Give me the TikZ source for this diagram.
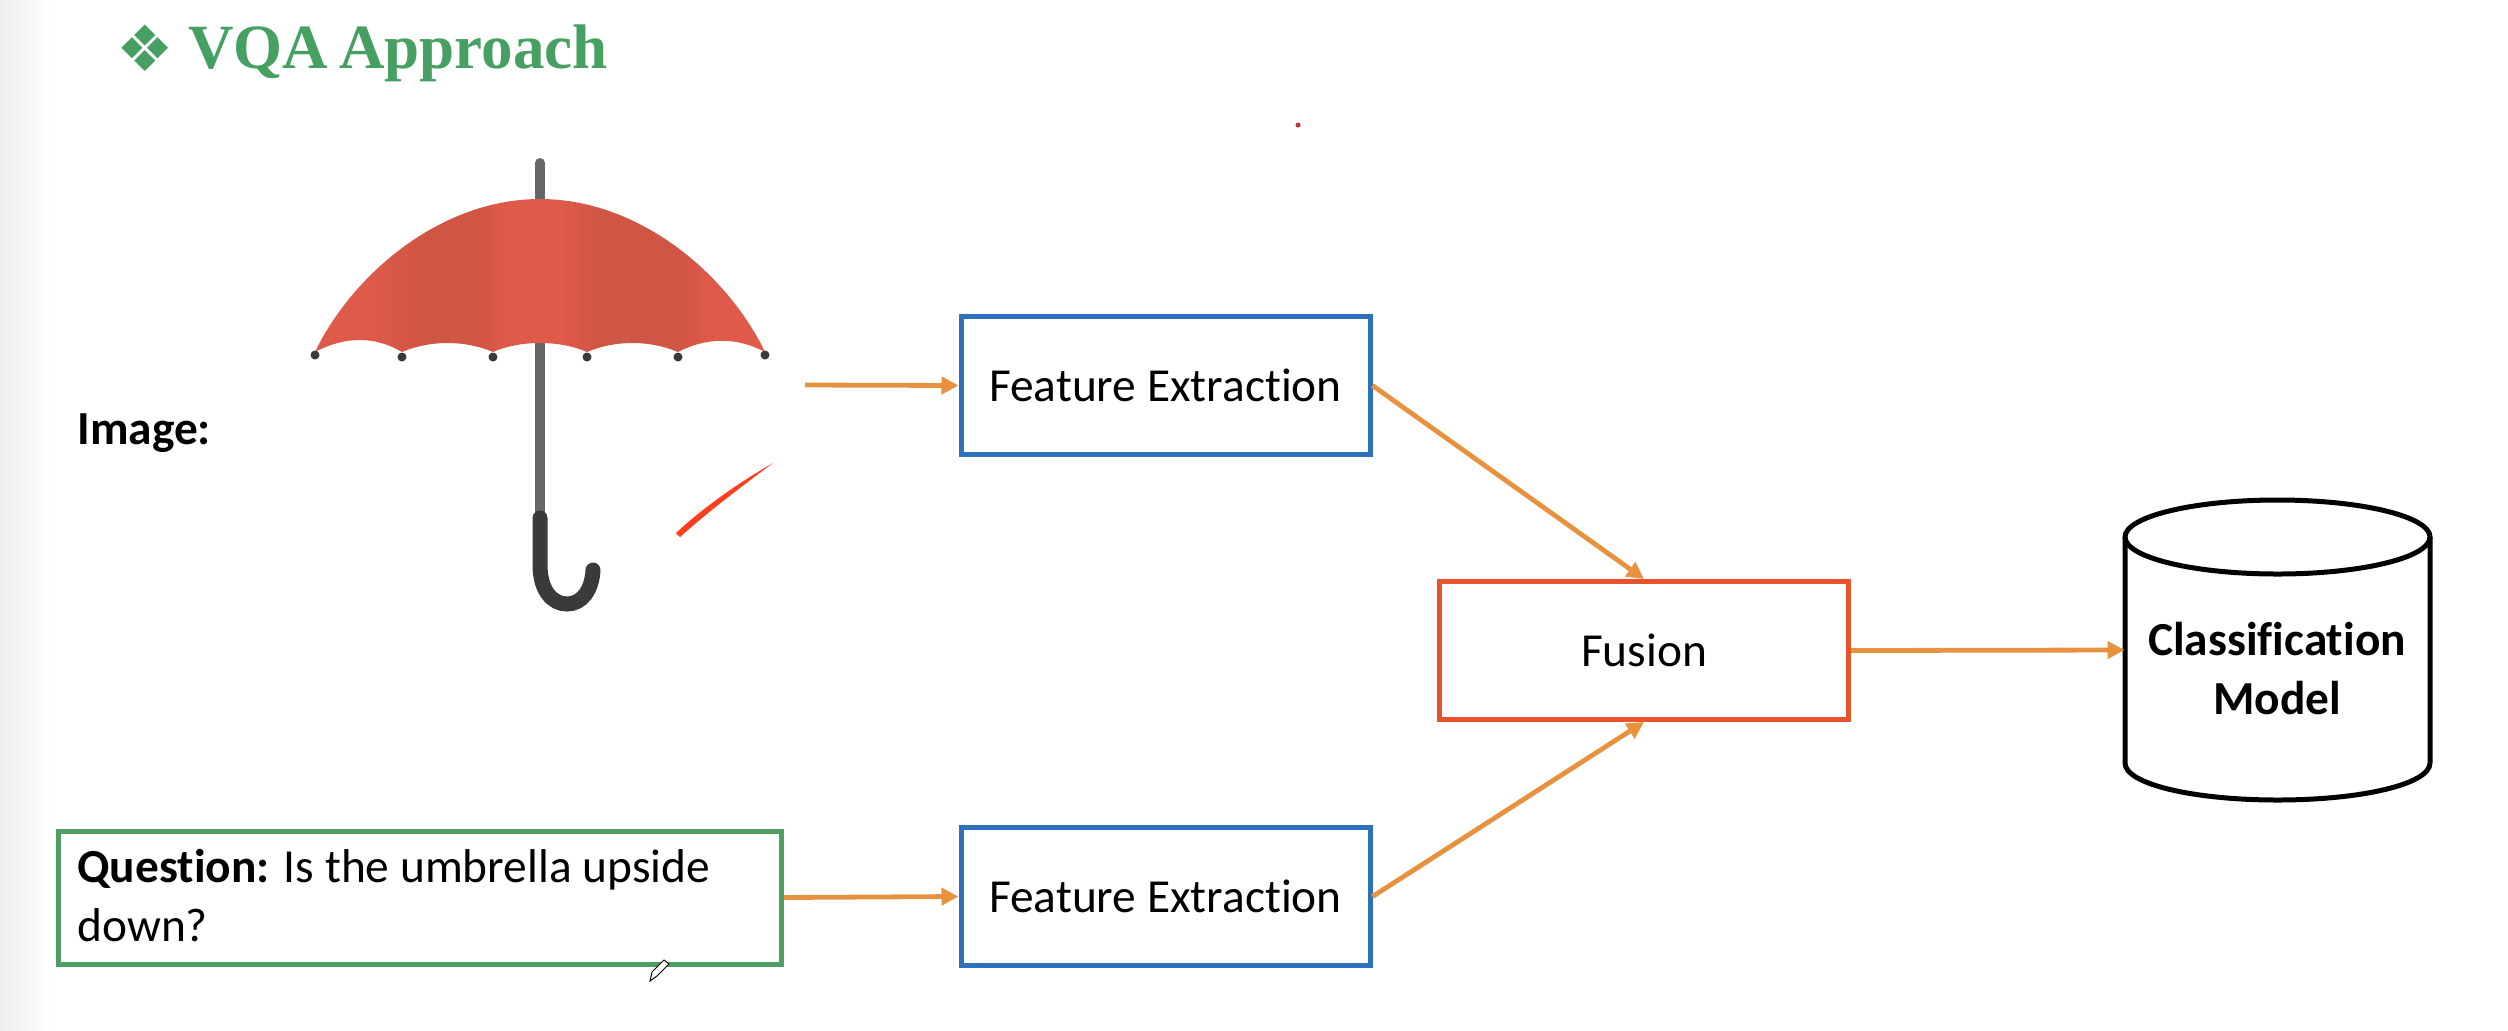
\documentclass[tikz,border=0pt]{standalone}
\usepackage{fontspec}
\setmainfont[Ligatures=CommonOff]{Carlito}
\newfontfamily\titlefont{Liberation Serif}
\newfontfamily\symfont{DejaVu Sans}
\usetikzlibrary{arrows.meta}
\definecolor{arrowc}{HTML}{E8923F}
\definecolor{blueb}{HTML}{2F70BE}
\definecolor{greenb}{HTML}{4F9E63}
\definecolor{titleg}{HTML}{46A062}
\definecolor{fusionb}{HTML}{E9532B}
\definecolor{pole}{HTML}{666666}
\definecolor{grip}{HTML}{3A3A3A}
\definecolor{ubright}{HTML}{DF5A49}
\definecolor{udark}{HTML}{CF5544}
\definecolor{penred}{HTML}{FF3C1C}
\pgfdeclarehorizontalshading{umbshade}{100bp}{
  color(0bp)=(ubright); color(25bp)=(ubright); color(31bp)=(ubright);
  color(37bp)=(udark); color(43bp)=(udark); color(46bp)=(ubright);
  color(52bp)=(ubright); color(57bp)=(udark);
  color(65bp)=(udark); color(69bp)=(ubright); color(75bp)=(ubright); color(100bp)=(ubright)}
\tikzset{
  x=0.5pt,y=-0.5pt,
  boxb/.style={draw,line width=2.5pt,minimum width=204.5pt,minimum height=69pt,inner sep=0pt,font=\fontsize{23.7}{29}\selectfont},
  flow/.style={draw=arrowc,line width=2.4pt,-{Triangle[length=8.5pt,width=8.5pt]}},
  tipdot/.style={fill=grip,draw=none}
}
\begin{document}
\begin{tikzpicture}
\useasboundingbox (0,0) rectangle (2508,1030);
\fill[white] (0,0) rectangle (2508,1030);
\shade[left color=black!7,right color=white] (0,0) rectangle (50,1030);
% title
\node[anchor=west,inner sep=0pt,text=titleg,font=\symfont\fontsize{32}{34}\selectfont] (bul) at (116,48) {❖};
\node[anchor=base west,inner sep=0pt,text=titleg,font=\titlefont\bfseries\fontsize{31.5}{36}\selectfont] (title) at (188,68) {VQA\hspace{5.5pt}Approach};
\fill[red!70!black!80] (1298,125) circle (2.5);
% umbrella
\draw[pole,line width=5pt,line cap=round] (540,163) -- (540,520);
\begin{scope}
\clip (315,352) .. controls (352,275) and (440,199) .. (540,199)
  .. controls (640,199) and (728,275) .. (765,352)
  .. controls (735,336) and (705,338) .. (678,352)
  .. controls (650,340) and (615,340) .. (587,352)
  .. controls (560,340) and (520,340) .. (493,352)
  .. controls (465,340) and (430,340) .. (402,352)
  .. controls (375,336) and (345,336) .. (315,352) -- cycle;
\shade[shading=umbshade] (315,190) rectangle (765,360);
\end{scope}
\foreach \px/\py in {315/355,402/357,493/357,587/357,678/357,765/355}{
  \fill[tipdot] (\px,\py) circle (4.5);
}
\draw[grip,line width=7.5pt,line cap=round] (540,518) -- (540,565)
  .. controls (540,590) and (552,604) .. (567,604)
  .. controls (582,604) and (592,590) .. (593,570);
% pen mark
\fill[penred] (676,533) .. controls (705,506) and (740,482) .. (773,463)
  .. controls (745,484) and (710,510) .. (680,537) -- cycle;
% labels and boxes
\node[anchor=west,inner sep=0pt,font=\bfseries\fontsize{23.7}{29}\selectfont] (imglab) at (77,433) {Image:};
\coordinate (imgout) at (805,385);
\node[boxb,draw=blueb] (fe1) at (1165.5,385.5) {Feature Extraction};
\node[boxb,draw=blueb] (fe2) at (1165.5,896.5) {Feature Extraction};
\node[boxb,draw=fusionb] (fus) at (1644,650.5) {Fusion};
\node[draw=greenb,line width=2.5pt,minimum width=361.5pt,minimum height=66.5pt,inner sep=0pt] (q) at (420,897.5) {};
\node[anchor=north west,inner sep=0pt,align=left,font=\fontsize{23.7}{29.5}\selectfont] (qtext) at (77,849) {\textbf{Question:} Is the umbrella upside\\down?};
% cylinder
\node[minimum width=152.5pt,minimum height=150pt,inner sep=0pt] (cyl) at (2277.5,650) {};
\draw[black,line width=2.5pt,line join=round] (2125,537) -- (2125,763)
  .. controls (2125,784) and (2193,800) .. (2277.5,800)
  .. controls (2362,800) and (2430,784) .. (2430,763) -- (2430,537);
\draw[black,line width=2.5pt] (2277.5,537) ellipse [x radius=152.5,y radius=37];
\node[align=center,inner sep=0pt,font=\bfseries\fontsize{23.7}{29.5}\selectfont] (cyltext) at (2277,669) {Classification\\Model};
% connectors
\draw[flow] (imgout) -- (fe1.west);
\draw[flow] (q.east) -- (fe2.west);
\draw[flow] (fe1.east) -- (fus.north);
\draw[flow] (fe2.east) -- (fus.south);
\draw[flow] (fus.east) -- (cyl.west);
% pencil cursor
\draw[black,line width=0.5pt,fill=white] (650,981) -- (652,972) -- (664,960) -- (669,964) -- (657,976) -- cycle;
\end{tikzpicture}
\end{document}
